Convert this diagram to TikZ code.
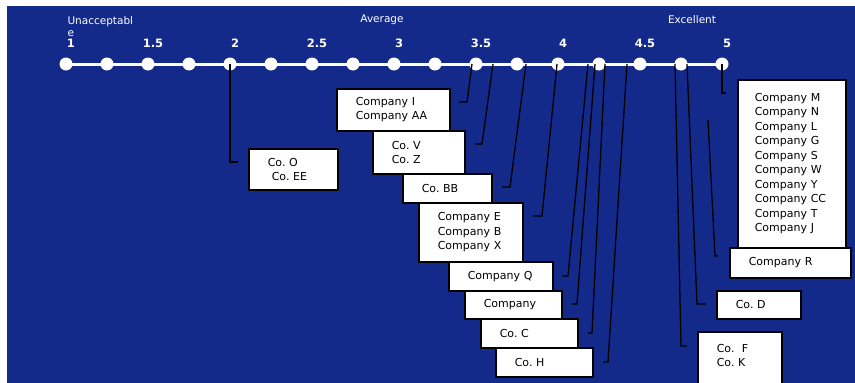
\documentclass[tikz,border=0pt]{standalone}
\usepackage{fontspec}
\setmainfont{DejaVu Sans}
\usepackage{tikz}
\definecolor{chartblue}{RGB}{19,42,138}
\tikzset{
  compbox/.style = {draw = black, fill = white, line width = 1.6pt, anchor = north west,
    align = left, inner xsep = 19pt, font = \fontsize{11}{14.5}\selectfont\frenchspacing},
  conn/.style = {black, line width = 1.3pt},
  tickdot/.style = {circle, fill = white, inner sep = 0pt, minimum size = 13pt},
  scorelbl/.style = {white, font = \fontsize{11.5}{13}\selectfont\bfseries},
  bandlbl/.style = {white, font = \fontsize{10.5}{12}\selectfont}
}
\begin{document}
\begin{tikzpicture}[x = 1pt, y = -1pt]
\useasboundingbox (0,0) rectangle (855,383);
\fill[chartblue] (7,6) rectangle (855,383);

% scale
\draw[white, line width = 3pt] (66,64)--(722,64);
\foreach \i in {0,...,16}
  \node[tickdot] (d\i) at ({66+41*\i},64) {};
\foreach \i/\v in {0/1,2/1.5,4/2,6/2.5,8/3,10/3.5,12/4,14/4.5,16/5}
  \node[scorelbl] (s\i) at ({71+41*\i},43) {\v};
\node[bandlbl, anchor = west] (bad) at (64,22) {Unacceptabl};
\node[bandlbl, anchor = west] (bad2) at (64,34) {e};
\node[bandlbl] (avg) at (382,20) {Average};
\node[bandlbl] (exc) at (692,20) {Excellent};

% connectors
\foreach \xa/\xb/\yb/\dx in {472/467/102/-8, 493/482/144/-7, 526/510/187/-8,
    557/542/216/-9, 588/568/276/-6, 595/577/304/-5, 605/592/333/-4,
    627/608/362/-5, 230/230/162/8, 722/722/93/4, 687/697/304/9, 675/681/346/6}
  \draw[conn] (\xa,64)--(\xb,\yb)--++(\dx,0);
\draw[conn] (708,120)--(715,256)--++(3,0);

% companies
\node[compbox, text width = 75pt, minimum height = 42pt] (cI) at (336,88) {Company I\\Company AA};
\node[compbox, text width = 54pt, minimum height = 43pt] (cV) at (372,130) {Co. V\\Co. Z};
\node[compbox, text width = 51pt, minimum height = 29pt] (cBB) at (402,173) {Co. BB};
\node[compbox, text width = 66pt, minimum height = 59pt] (cE) at (418,202) {Company E\\Company B\\Company X};
\node[compbox, text width = 66pt, minimum height = 29pt] (cQ) at (448,261) {Company Q};
\node[compbox, text width = 59pt, minimum height = 28pt] (cP) at (464,290) {Company};
\node[compbox, text width = 59pt, minimum height = 29pt] (cC) at (480,318) {Co. C};
\node[compbox, text width = 59pt, minimum height = 29pt] (cH) at (495,347) {Co. H};
\node[compbox, text width = 51pt, minimum height = 41pt] (cO) at (248,148) {Co. O\\\hspace{4pt}Co. EE};
\node[compbox, inner xsep = 17pt, text width = 74pt, minimum height = 168pt] (cM) at (737,79)
  {Company M\\Company N\\Company L\\Company G\\Company S\\Company W\\Company Y\\Company CC\\Company T\\Company J};
\node[compbox, text width = 83pt, minimum height = 30pt] (cR) at (729,247) {Company R};
\node[compbox, text width = 46pt, minimum height = 28pt] (cD) at (716,290) {Co. D};
\node[compbox, text width = 46pt, minimum height = 62pt] (cF) at (697,331) {Co.~~F\\Co. K\\\mbox{}};
\end{tikzpicture}
\end{document}
